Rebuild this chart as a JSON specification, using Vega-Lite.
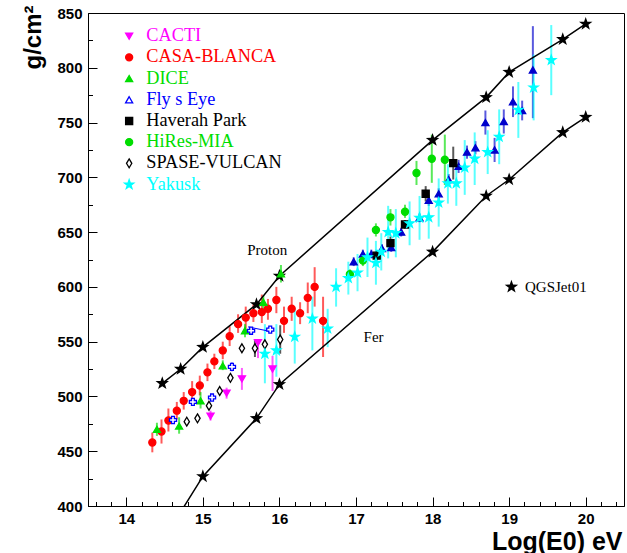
{
  "$schema": "https://vega.github.io/schema/vega-lite/v6.json",
  "width": 536,
  "height": 493,
  "autosize": "none",
  "padding": {"left": 88, "top": 13, "right": 3, "bottom": 47},
  "background": "white",
  "config": {
    "view": {"stroke": "black", "strokeWidth": 1},
    "axis": {"grid": false, "domainColor": "black", "tickColor": "black", "labelColor": "black", "labelFont": "Liberation Sans", "labelFontWeight": "bold", "labelFontSize": 15, "titleFont": "Liberation Sans", "titleFontWeight": "bold", "titleColor": "black", "labelOverlap": false, "labelFlush": false},
    "legend": {"title": null, "orient": "none", "legendX": 32, "legendY": 14, "padding": 0, "labelFont": "Liberation Serif", "labelFontSize": 18.3, "labelOffset": 8, "rowPadding": 2.2, "symbolSize": 50, "symbolStrokeWidth": 1.3, "labelLimit": 300}
  },
  "datasets": {
    "pts": [
      {"set": "CASA-BLANCA", "x": 14.34, "y": 458, "lo": 449, "hi": 467},
      {"set": "CASA-BLANCA", "x": 14.46, "y": 468, "lo": 457, "hi": 479},
      {"set": "CASA-BLANCA", "x": 14.55, "y": 478, "lo": 468, "hi": 489},
      {"set": "CASA-BLANCA", "x": 14.66, "y": 487, "lo": 479, "hi": 495},
      {"set": "CASA-BLANCA", "x": 14.75, "y": 496, "lo": 488, "hi": 504},
      {"set": "CASA-BLANCA", "x": 14.86, "y": 504, "lo": 494, "hi": 514},
      {"set": "CASA-BLANCA", "x": 14.96, "y": 510, "lo": 501, "hi": 519},
      {"set": "CASA-BLANCA", "x": 15.06, "y": 522, "lo": 514, "hi": 530},
      {"set": "CASA-BLANCA", "x": 15.15, "y": 532, "lo": 525, "hi": 539},
      {"set": "CASA-BLANCA", "x": 15.26, "y": 542, "lo": 534, "hi": 550},
      {"set": "CASA-BLANCA", "x": 15.35, "y": 555, "lo": 546, "hi": 564},
      {"set": "CASA-BLANCA", "x": 15.46, "y": 566, "lo": 558, "hi": 575},
      {"set": "CASA-BLANCA", "x": 15.56, "y": 572, "lo": 562, "hi": 582},
      {"set": "CASA-BLANCA", "x": 15.66, "y": 576, "lo": 568, "hi": 584},
      {"set": "CASA-BLANCA", "x": 15.77, "y": 577, "lo": 567, "hi": 593},
      {"set": "CASA-BLANCA", "x": 15.85, "y": 580, "lo": 570, "hi": 589},
      {"set": "CASA-BLANCA", "x": 15.96, "y": 588, "lo": 576, "hi": 600},
      {"set": "CASA-BLANCA", "x": 16.06, "y": 569, "lo": 558, "hi": 582},
      {"set": "CASA-BLANCA", "x": 16.16, "y": 580, "lo": 569, "hi": 591},
      {"set": "CASA-BLANCA", "x": 16.27, "y": 576, "lo": 566, "hi": 586},
      {"set": "CASA-BLANCA", "x": 16.37, "y": 590, "lo": 576, "hi": 604},
      {"set": "CASA-BLANCA", "x": 16.46, "y": 600, "lo": 582, "hi": 618},
      {"set": "CASA-BLANCA", "x": 16.57, "y": 569, "lo": 536, "hi": 591},
      {"set": "CACTI", "x": 15.10, "y": 482, "lo": 478, "hi": 487},
      {"set": "CACTI", "x": 15.31, "y": 503, "lo": 498, "hi": 508},
      {"set": "CACTI", "x": 15.51, "y": 516, "lo": 506, "hi": 526},
      {"set": "CACTI", "x": 15.72, "y": 549, "lo": 535, "hi": 552},
      {"set": "CACTI", "x": 15.91, "y": 525, "lo": 505, "hi": 537},
      {"set": "DICE", "x": 14.40, "y": 470, "lo": 464, "hi": 476},
      {"set": "DICE", "x": 14.69, "y": 473, "lo": 466, "hi": 481},
      {"set": "DICE", "x": 14.97, "y": 496, "lo": 489, "hi": 504},
      {"set": "DICE", "x": 15.26, "y": 528, "lo": 524, "hi": 533},
      {"set": "DICE", "x": 15.55, "y": 560, "lo": 554, "hi": 566},
      {"set": "DICE", "x": 15.79, "y": 586, "lo": 580, "hi": 592},
      {"set": "DICE", "x": 16.02, "y": 612, "lo": 604, "hi": 620},
      {"set": "Fly s Eye A", "x": 14.61, "y": 478.5, "lo": 475, "hi": 482},
      {"set": "Fly s Eye A", "x": 14.87, "y": 495, "lo": 492, "hi": 498},
      {"set": "Fly s Eye A", "x": 15.12, "y": 499, "lo": 496, "hi": 502},
      {"set": "Fly s Eye A", "x": 15.38, "y": 527, "lo": 523, "hi": 531},
      {"set": "Fly s Eye A", "x": 15.63, "y": 560, "lo": 557, "hi": 563},
      {"set": "Fly s Eye A", "x": 15.88, "y": 561, "lo": 558, "hi": 564},
      {"set": "Fly s Eye B", "x": 16.97, "y": 623, "lo": 619, "hi": 627},
      {"set": "Fly s Eye B", "x": 17.09, "y": 630, "lo": 626, "hi": 634},
      {"set": "Fly s Eye B", "x": 17.20, "y": 630, "lo": 626, "hi": 634},
      {"set": "Fly s Eye B", "x": 17.34, "y": 635, "lo": 631, "hi": 639},
      {"set": "Fly s Eye B", "x": 17.46, "y": 636, "lo": 632, "hi": 640},
      {"set": "Fly s Eye B", "x": 17.59, "y": 650, "lo": 646, "hi": 654},
      {"set": "Fly s Eye B", "x": 17.83, "y": 663, "lo": 659, "hi": 667},
      {"set": "Fly s Eye B", "x": 17.95, "y": 679, "lo": 674, "hi": 684},
      {"set": "Fly s Eye B", "x": 18.08, "y": 685, "lo": 680, "hi": 690},
      {"set": "Fly s Eye B", "x": 18.21, "y": 698, "lo": 693, "hi": 703},
      {"set": "Fly s Eye B", "x": 18.34, "y": 710, "lo": 704, "hi": 716},
      {"set": "Fly s Eye B", "x": 18.45, "y": 723, "lo": 717, "hi": 729},
      {"set": "Fly s Eye B", "x": 18.56, "y": 727, "lo": 721, "hi": 733},
      {"set": "Fly s Eye B", "x": 18.69, "y": 750, "lo": 739, "hi": 761},
      {"set": "Fly s Eye B", "x": 18.81, "y": 725, "lo": 714, "hi": 736},
      {"set": "Fly s Eye B", "x": 18.93, "y": 751, "lo": 740, "hi": 762},
      {"set": "Fly s Eye B", "x": 19.05, "y": 769, "lo": 755, "hi": 783},
      {"set": "Fly s Eye B", "x": 19.17, "y": 761, "lo": 752, "hi": 770},
      {"set": "Fly s Eye B", "x": 19.31, "y": 798, "lo": 754, "hi": 838},
      {"set": "Haverah Park", "x": 17.27, "y": 628.5, "lo": 624, "hi": 633},
      {"set": "Haverah Park", "x": 17.45, "y": 640, "lo": 634, "hi": 646},
      {"set": "Haverah Park", "x": 17.64, "y": 657, "lo": 653, "hi": 661},
      {"set": "Haverah Park", "x": 17.91, "y": 685, "lo": 678, "hi": 692},
      {"set": "Haverah Park", "x": 18.27, "y": 713, "lo": 698, "hi": 728},
      {"set": "HiRes-MIA", "x": 16.92, "y": 611.5, "lo": 607, "hi": 616},
      {"set": "HiRes-MIA", "x": 17.09, "y": 624, "lo": 619, "hi": 629},
      {"set": "HiRes-MIA", "x": 17.26, "y": 652, "lo": 646, "hi": 658},
      {"set": "HiRes-MIA", "x": 17.45, "y": 663.5, "lo": 656, "hi": 671},
      {"set": "HiRes-MIA", "x": 17.64, "y": 668.6, "lo": 663, "hi": 675},
      {"set": "HiRes-MIA", "x": 17.79, "y": 704, "lo": 693, "hi": 715},
      {"set": "HiRes-MIA", "x": 17.99, "y": 717, "lo": 695, "hi": 739},
      {"set": "HiRes-MIA", "x": 18.16, "y": 716, "lo": 693, "hi": 739},
      {"set": "SPASE-VULCAN", "x": 14.79, "y": 477, "lo": 475, "hi": 479},
      {"set": "SPASE-VULCAN", "x": 14.93, "y": 480, "lo": 478, "hi": 482},
      {"set": "SPASE-VULCAN", "x": 15.08, "y": 491.5, "lo": 489, "hi": 494},
      {"set": "SPASE-VULCAN", "x": 15.22, "y": 505, "lo": 503, "hi": 507},
      {"set": "SPASE-VULCAN", "x": 15.36, "y": 517, "lo": 515, "hi": 519},
      {"set": "SPASE-VULCAN", "x": 15.51, "y": 544, "lo": 542, "hi": 546},
      {"set": "SPASE-VULCAN", "x": 15.68, "y": 544, "lo": 536, "hi": 552},
      {"set": "SPASE-VULCAN", "x": 15.81, "y": 547.6, "lo": 545, "hi": 550},
      {"set": "SPASE-VULCAN", "x": 16.01, "y": 552, "lo": 539, "hi": 565},
      {"set": "Yakusk", "x": 15.81, "y": 539, "lo": 512, "hi": 566},
      {"set": "Yakusk", "x": 15.96, "y": 542, "lo": 518, "hi": 566},
      {"set": "Yakusk", "x": 16.20, "y": 554.5, "lo": 530, "hi": 580},
      {"set": "Yakusk", "x": 16.43, "y": 571, "lo": 542, "hi": 591},
      {"set": "Yakusk", "x": 16.63, "y": 562, "lo": 545, "hi": 580},
      {"set": "Yakusk", "x": 16.74, "y": 600, "lo": 582, "hi": 617},
      {"set": "Yakusk", "x": 16.90, "y": 608, "lo": 593, "hi": 623},
      {"set": "Yakusk", "x": 17.02, "y": 613, "lo": 596, "hi": 630},
      {"set": "Yakusk", "x": 17.15, "y": 627, "lo": 609, "hi": 645},
      {"set": "Yakusk", "x": 17.26, "y": 622, "lo": 602, "hi": 642},
      {"set": "Yakusk", "x": 17.33, "y": 632, "lo": 615, "hi": 649},
      {"set": "Yakusk", "x": 17.42, "y": 650, "lo": 626, "hi": 674},
      {"set": "Yakusk", "x": 17.52, "y": 649, "lo": 627, "hi": 671},
      {"set": "Yakusk", "x": 17.70, "y": 658, "lo": 638, "hi": 678},
      {"set": "Yakusk", "x": 17.83, "y": 663, "lo": 643, "hi": 683},
      {"set": "Yakusk", "x": 17.95, "y": 663.5, "lo": 644, "hi": 684},
      {"set": "Yakusk", "x": 18.08, "y": 677, "lo": 655, "hi": 699},
      {"set": "Yakusk", "x": 18.20, "y": 694.5, "lo": 676, "hi": 712},
      {"set": "Yakusk", "x": 18.31, "y": 694.5, "lo": 674, "hi": 714},
      {"set": "Yakusk", "x": 18.42, "y": 709, "lo": 684, "hi": 734},
      {"set": "Yakusk", "x": 18.55, "y": 717, "lo": 693, "hi": 741},
      {"set": "Yakusk", "x": 18.72, "y": 723, "lo": 703, "hi": 743},
      {"set": "Yakusk", "x": 18.87, "y": 737, "lo": 712, "hi": 762},
      {"set": "Yakusk", "x": 19.12, "y": 761.5, "lo": 736, "hi": 787},
      {"set": "Yakusk", "x": 19.32, "y": 782, "lo": 752, "hi": 812},
      {"set": "Yakusk", "x": 19.55, "y": 807, "lo": 775, "hi": 839}
    ],
    "curves": [
      {"model": "Proton", "x": 14.47, "y": 512},
      {"model": "Proton", "x": 14.71, "y": 525},
      {"model": "Proton", "x": 15.0, "y": 545},
      {"model": "Proton", "x": 15.7, "y": 584},
      {"model": "Proton", "x": 16.0, "y": 610},
      {"model": "Proton", "x": 18.0, "y": 734},
      {"model": "Proton", "x": 18.7, "y": 773},
      {"model": "Proton", "x": 19.0, "y": 796},
      {"model": "Proton", "x": 19.7, "y": 826},
      {"model": "Proton", "x": 20.0, "y": 840},
      {"model": "Fer", "x": 14.5, "y": 371},
      {"model": "Fer", "x": 15.0, "y": 427},
      {"model": "Fer", "x": 15.7, "y": 480},
      {"model": "Fer", "x": 16.0, "y": 511},
      {"model": "Fer", "x": 18.0, "y": 632},
      {"model": "Fer", "x": 18.7, "y": 683},
      {"model": "Fer", "x": 19.0, "y": 698},
      {"model": "Fer", "x": 19.7, "y": 741},
      {"model": "Fer", "x": 20.0, "y": 755},
      {"model": "QGSJet01", "x": 19.03, "y": 600}
    ],
    "link": [
      {"x": 15.59, "y": 563.5},
      {"x": 15.87, "y": 559.5}
    ],
    "notes": [
      {"label": "Proton", "x": 15.84, "y": 634},
      {"label": "Fer", "x": 17.23, "y": 554},
      {"label": "QGSJet01", "x": 19.61, "y": 600}
    ]
  },
  "encoding": {
    "x": {
      "field": "x", "type": "quantitative",
      "scale": {"domain": [13.5, 20.5], "nice": false, "zero": false},
      "axis": {
        "title": "Log(E0) eV", "titleFontSize": 25, "titleAnchor": "end", "titleAlign": "right", "titleBaseline": "alphabetic", "titleX": 534, "titleY": 43,
        "values": [13.6,13.8,14,14.2,14.4,14.6,14.8,15,15.2,15.4,15.6,15.8,16,16.2,16.4,16.6,16.8,17,17.2,17.4,17.6,17.8,18,18.2,18.4,18.6,18.8,19,19.2,19.4,19.6,19.8,20,20.2,20.4],
        "labelExpr": "abs(datum.value - round(datum.value)) < 0.01 ? format(datum.value, 'd') : ''",
        "tickSize": {"condition": {"test": "abs(datum.value - round(datum.value)) < 0.01", "value": -9}, "value": -4.5},
        "labelPadding": 14
      }
    },
    "y": {
      "field": "y", "type": "quantitative",
      "scale": {"domain": [400, 850], "nice": false, "zero": false},
      "axis": {
        "title": "g/cm²", "titleFontSize": 24, "titleAngle": -90, "titleAlign": "right", "titleBaseline": "alphabetic", "titleX": -48, "titleY": -8,
        "values": [400,425,450,475,500,525,550,575,600,625,650,675,700,725,750,775,800,825,850],
        "labelExpr": "datum.value % 50 === 0 ? datum.label : ''",
        "tickSize": {"condition": {"test": "datum.value % 50 === 0", "value": -9}, "value": -4.5},
        "labelPadding": 15
      }
    }
  },
  "layer": [
    {
      "data": {"name": "pts"},
      "mark": {"type": "rule", "strokeWidth": 2, "opacity": 0.65},
      "encoding": {
        "y": {"field": "lo", "type": "quantitative", "scale": {"domain": [400, 850], "nice": false, "zero": false}},
        "y2": {"field": "hi"},
        "color": {
          "field": "set", "type": "nominal", "legend": null,
          "scale": {
            "domain": ["CACTI","CASA-BLANCA","DICE","Haverah Park","HiRes-MIA","SPASE-VULCAN","Yakusk","Fly s Eye A","Fly s Eye B"],
            "range": ["#ff00ff","#ff0000","#00dd00","#000000","#00dd00","#000000","#00ffff","#0000ff","#0000cc"]
          }
        }
      }
    },
    {
      "data": {"name": "link"},
      "mark": {"type": "line", "color": "#0000ff", "strokeWidth": 1},
      "encoding": {}
    },
    {
      "data": {"name": "curves"},
      "transform": [{"filter": "datum.model !== 'QGSJet01'"}],
      "mark": {"type": "line", "color": "black", "strokeWidth": 1.5, "clip": true},
      "encoding": {"detail": {"field": "model", "type": "nominal"}}
    },
    {
      "data": {"name": "curves"},
      "mark": {"type": "point", "filled": true, "color": "black", "opacity": 1, "size": 110, "clip": true,
        "shape": "M0,-1.35L0.317,-0.437L1.284,-0.417L0.513,0.167L0.794,1.092L0,0.54L-0.794,1.092L-0.513,0.167L-1.284,-0.417L-0.317,-0.437Z"},
      "encoding": {}
    },
    {
      "data": {"name": "pts"},
      "mark": {"type": "point", "filled": true, "opacity": 1, "size": 50, "strokeWidth": 1.3},
      "encoding": {
        "stroke": {
          "field": "set", "type": "nominal",
          "scale": {
            "domain": ["CACTI","CASA-BLANCA","DICE","Fly s Eye","Haverah Park","HiRes-MIA","SPASE-VULCAN","Yakusk","Fly s Eye A","Fly s Eye B"],
            "range": ["#ff00ff","#ff0000","#00dd00","#0000ff","#000000","#00dd00","#000000","#00ffff","#0000ff","#0000cc"]
          },
          "legend": {
            "values": ["CACTI","CASA-BLANCA","DICE","Fly s Eye","Haverah Park","HiRes-MIA","SPASE-VULCAN","Yakusk"],
            "labelColor": {"expr": "datum.value === 'CACTI' ? '#ff00ff' : datum.value === 'CASA-BLANCA' ? '#ff0000' : (datum.value === 'DICE' || datum.value === 'HiRes-MIA') ? '#00dd00' : datum.value === 'Fly s Eye' ? '#0000ff' : datum.value === 'Yakusk' ? '#00ffff' : '#000000'"}
          }
        },
        "fill": {
          "field": "set", "type": "nominal",
          "scale": {
            "domain": ["CACTI","CASA-BLANCA","DICE","Fly s Eye","Haverah Park","HiRes-MIA","SPASE-VULCAN","Yakusk","Fly s Eye A","Fly s Eye B"],
            "range": ["#ff00ff","#ff0000","#00dd00","#ffffff","#000000","#00dd00","#ffffff","#00ffff","#ffffff","#0000cc"]
          },
          "legend": {
            "values": ["CACTI","CASA-BLANCA","DICE","Fly s Eye","Haverah Park","HiRes-MIA","SPASE-VULCAN","Yakusk"],
            "labelColor": {"expr": "datum.value === 'CACTI' ? '#ff00ff' : datum.value === 'CASA-BLANCA' ? '#ff0000' : (datum.value === 'DICE' || datum.value === 'HiRes-MIA') ? '#00dd00' : datum.value === 'Fly s Eye' ? '#0000ff' : datum.value === 'Yakusk' ? '#00ffff' : '#000000'"}
          }
        },
        "shape": {
          "field": "set", "type": "nominal",
          "scale": {
            "domain": ["CACTI","CASA-BLANCA","DICE","Fly s Eye","Haverah Park","HiRes-MIA","SPASE-VULCAN","Yakusk","Fly s Eye A","Fly s Eye B"],
            "range": ["triangle-down","circle","triangle-up","triangle-up","square","circle","M0,-1.25L0.75,0L0,1.25L-0.75,0Z","M0,-1.35L0.317,-0.437L1.284,-0.417L0.513,0.167L0.794,1.092L0,0.54L-0.794,1.092L-0.513,0.167L-1.284,-0.417L-0.317,-0.437Z","cross","triangle-up"]
          },
          "legend": {
            "values": ["CACTI","CASA-BLANCA","DICE","Fly s Eye","Haverah Park","HiRes-MIA","SPASE-VULCAN","Yakusk"],
            "labelColor": {"expr": "datum.value === 'CACTI' ? '#ff00ff' : datum.value === 'CASA-BLANCA' ? '#ff0000' : (datum.value === 'DICE' || datum.value === 'HiRes-MIA') ? '#00dd00' : datum.value === 'Fly s Eye' ? '#0000ff' : datum.value === 'Yakusk' ? '#00ffff' : '#000000'"}
          }
        }
      }
    },
    {
      "data": {"name": "notes"},
      "mark": {"type": "text", "font": "Liberation Serif", "fontSize": 15, "color": "black", "align": "center", "baseline": "middle"},
      "encoding": {"text": {"field": "label", "type": "nominal"}}
    }
  ]
}
